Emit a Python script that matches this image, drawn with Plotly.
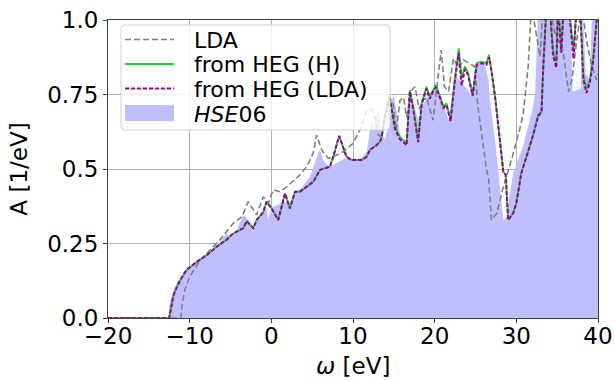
import plotly.graph_objects as go

# ---- data ----
x_heg = [-20, -12.5, -12.3, -12.0, -11.6, -11.2, -10.4, -9.1, -7.9, -6.7,
         -5.5, -4.66, -3.45, -3.0, -2.2, -1.8, -1.0, -0.58, 0.03, 0.85,
         1.67, 2.28, 2.9, 3.5, 4.3, 5.13, 5.95, 7.17, 7.58, 8.31,
         9.2, 9.83, 11.05, 11.66, 12.07, 12.89, 13.3, 13.5, 13.9, 14.52,
         15.13, 15.74, 16.56, 16.96, 17.37, 17.98, 18.4, 19.0, 19.4, 19.8,
         20.15, 20.65, 21.05, 21.45, 21.95, 22.45, 22.95, 23.3, 23.7, 24.1,
         24.65, 25.15, 25.75, 26.35, 26.65, 26.95, 27.4, 28.0, 28.4, 28.7,
         29.0, 29.6, 30.0, 30.6, 31.65, 32.06, 32.67, 33.08, 33.3, 33.7,
         34.1, 34.5, 34.9, 35.1, 35.5, 35.8, 36.4, 37.0, 37.4, 37.8,
         38.2, 38.6, 39.0, 39.4, 40.0]
y_heg_h = [0, 0, 0.03, 0.075, 0.103, 0.125, 0.161, 0.189, 0.211, 0.239,
           0.262, 0.284, 0.301, 0.325, 0.301, 0.329, 0.355, 0.39, 0.368, 0.329,
           0.418, 0.368, 0.424, 0.424, 0.44, 0.457, 0.497, 0.508, 0.541, 0.611,
           0.541, 0.53, 0.53, 0.541, 0.564, 0.58, 0.592, 0.608, 0.68, 0.743,
           0.642, 0.608, 0.586, 0.765, 0.709, 0.597, 0.72, 0.776, 0.743, 0.765,
           0.782, 0.743, 0.709, 0.72, 0.664, 0.799, 0.905, 0.805, 0.844, 0.821,
           0.748, 0.855, 0.86, 0.855, 0.883, 0.832, 0.743, 0.597, 0.491, 0.48,
           0.329, 0.351, 0.385, 0.485, 0.575, 0.614, 0.681, 0.692, 0.85, 1.05,
           1.05, 0.894, 0.86, 1.05, 0.905, 1.05, 1.05, 0.90, 1.05, 1.05,
           0.815, 0.771, 0.80, 0.871, 1.05]
y_heg_lda = [0, 0, 0.03, 0.075, 0.103, 0.125, 0.161, 0.189, 0.211, 0.239,
             0.262, 0.284, 0.301, 0.325, 0.301, 0.329, 0.355, 0.39, 0.368, 0.329,
             0.418, 0.368, 0.424, 0.424, 0.44, 0.457, 0.497, 0.508, 0.541, 0.611,
             0.541, 0.53, 0.53, 0.541, 0.564, 0.58, 0.592, 0.605, 0.675, 0.735,
             0.635, 0.60, 0.58, 0.76, 0.70, 0.59, 0.715, 0.77, 0.735, 0.76,
             0.775, 0.74, 0.705, 0.715, 0.66, 0.79, 0.89, 0.78, 0.835, 0.815,
             0.745, 0.85, 0.855, 0.85, 0.875, 0.83, 0.74, 0.597, 0.491, 0.48,
             0.329, 0.351, 0.385, 0.485, 0.575, 0.614, 0.678, 0.69, 0.84, 1.05,
             1.05, 0.88, 0.84, 1.05, 0.89, 1.05, 1.05, 0.87, 1.05, 1.05,
             0.80, 0.755, 0.79, 0.86, 1.05]

x_lda = [-20, -11.1, -10.9, -10.6, -10.0, -8.7, -7.5, -6.3, -4.66, -3.6,
         -2.83, -1.8, -0.99, -0.38, 0.23, 1.05, 1.87, 3.5, 4.32, 5.13,
         5.54, 6.16, 6.97, 7.58, 8.8, 10.0, 11.05, 11.66, 12.3, 12.7,
         13.1, 13.5, 13.9, 14.3, 14.9, 15.3, 15.75, 16.2, 16.56, 17.2,
         17.6, 18.1, 18.5, 19.0, 19.8, 20.2, 20.8, 21.2, 21.7, 22.3,
         22.9, 23.5, 24.3, 24.9, 25.3, 25.9, 26.35, 26.6, 26.95, 27.6,
         28.4, 29.4, 30.4, 30.85, 31.45, 31.85, 32.5, 32.9, 33.3, 34.0,
         34.8, 35.7, 36.4, 36.8, 37.4, 38.0, 38.6, 39.2, 39.8, 40.0]
y_lda = [0, 0, 0.05, 0.094, 0.139, 0.195, 0.228, 0.262, 0.318, 0.34,
         0.39, 0.346, 0.407, 0.385, 0.43, 0.424, 0.44, 0.48, 0.508, 0.553,
         0.614, 0.564, 0.536, 0.541, 0.558, 0.586, 0.642, 0.698, 0.70, 0.67,
         0.614, 0.608, 0.675, 0.743, 0.72, 0.631, 0.73, 0.74, 0.675, 0.765,
         0.776, 0.70, 0.73, 0.74, 0.664, 0.754, 0.899, 0.777, 0.76, 0.871,
         0.838, 0.866, 0.855, 0.844, 0.709, 0.586, 0.497, 0.47, 0.329, 0.351,
         0.44, 0.53, 0.631, 0.687, 0.844, 1.05, 0.944, 0.877, 1.05, 1.05,
         0.95, 0.899, 0.76, 0.80, 0.933, 1.05, 0.93, 0.85, 0.799, 0.82]

x_hse = [-20, -12.65, -12.5, -12.2, -11.8, -11.2, -10.4, -9.1, -7.9, -6.7,
         -5.5, -4.9, -4.3, -3.44, -3.0, -2.2, -1.6, -0.9, -0.58, -0.4,
         0.0, 0.8, 1.46, 2.2, 2.9, 3.5, 4.72, 5.74, 5.95, 6.36,
         6.56, 7.17, 9.0, 11.0, 11.7, 12.27, 12.6, 13.1, 13.5, 13.9,
         14.5, 14.9, 15.3, 15.74, 16.2, 16.6, 17.0, 17.5, 18.0, 18.6,
         19.4, 20.2, 20.8, 21.7, 22.1, 22.6, 23.3, 23.9, 24.6, 25.1,
         25.7, 26.1, 26.6, 26.76, 27.4, 28.0, 28.4, 28.8, 29.6, 30.8,
         31.86, 32.3, 32.7, 36.6, 36.9, 37.9, 38.1, 38.5, 39.0, 39.3, 40.0]
y_hse = [0, 0, 0.04, 0.075, 0.105, 0.13, 0.165, 0.19, 0.212, 0.24,
         0.284, 0.27, 0.29, 0.346, 0.335, 0.29, 0.335, 0.36, 0.37, 0.33,
         0.37, 0.38, 0.39, 0.385, 0.42, 0.43, 0.474, 0.553, 0.564, 0.53,
         0.52, 0.508, 0.535, 0.535, 0.56, 0.664, 0.64, 0.709, 0.62, 0.60,
         0.66, 0.754, 0.70, 0.62, 0.58, 0.60, 0.76, 0.71, 0.665, 0.72,
         0.754, 0.777, 0.743, 0.664, 0.74, 0.81, 0.79, 0.77, 0.743, 0.844,
         0.86, 0.855, 0.80, 0.732, 0.597, 0.44, 0.329, 0.34, 0.485, 0.575,
         0.687, 0.75, 1.05, 1.05, 0.76, 0.77, 1.05, 0.82, 0.80, 1.05, 1.05]

x_ticks = [-20, -10, 0, 10, 20, 30, 40]
x_ticklabels = ["\u221220", "\u221210", "0", "10", "20", "30", "40"]
y_ticks = [0, 0.25, 0.5, 0.75, 1.0]
y_ticklabels = ["0.0", "0.25", "0.5", "0.75", "1.0"]

legend_labels = ["LDA", "from HEG (H)", "from HEG (LDA)", "<i>HSE</i>06"]
x_title = "<i>\u03c9</i> [eV]"
y_title = "A [1/eV]"

FONT = "DejaVu Sans"
FS = 23
FS_LEG = 22
W, H = 615, 381
ML, MR, MT, MB = 108, 17, 20, 63
PW, PH = W - ML - MR, H - MT - MB

C_FILL = "rgb(191,191,255)"
C_LDA = "#808080"
C_H = "#22cc22"
C_L = "#990099"
LINE_LDA = dict(color=C_LDA, width=1.6, dash="6px,3px")
LINE_H = dict(color=C_H, width=1.8)
LINE_L = dict(color=C_L, width=2, dash="4px,2px")

fig = go.Figure()
fig.add_trace(go.Scatter(x=x_hse, y=y_hse, mode="lines", fill="tozeroy",
                         fillcolor=C_FILL, line=dict(width=0, color=C_FILL),
                         name="HSE06", showlegend=False))
fig.add_trace(go.Scatter(x=x_lda, y=y_lda, mode="lines", line=LINE_LDA,
                         name="LDA", showlegend=False))
fig.add_trace(go.Scatter(x=x_heg, y=y_heg_h, mode="lines", line=LINE_H,
                         name="from HEG (H)", showlegend=False))
fig.add_trace(go.Scatter(x=x_heg, y=y_heg_lda, mode="lines", line=LINE_L,
                         name="from HEG (LDA)", showlegend=False))


def px(xp):
    return (xp - ML) / PW


def py(yp):
    return (MT + PH - yp) / PH


# legend box (matplotlib-style, semi-transparent, rounded corners)
bx0, bx1, by0, by1, r = 121, 390, 25, 130, 4
path = (f"M {px(bx0 + r)},{py(by0)} L {px(bx1 - r)},{py(by0)} "
        f"Q {px(bx1)},{py(by0)} {px(bx1)},{py(by0 + r)} L {px(bx1)},{py(by1 - r)} "
        f"Q {px(bx1)},{py(by1)} {px(bx1 - r)},{py(by1)} L {px(bx0 + r)},{py(by1)} "
        f"Q {px(bx0)},{py(by1)} {px(bx0)},{py(by1 - r)} L {px(bx0)},{py(by0 + r)} "
        f"Q {px(bx0)},{py(by0)} {px(bx0 + r)},{py(by0)} Z")
shapes = [dict(type="path", xref="paper", yref="paper", path=path,
               fillcolor="rgba(255,255,255,0.8)", line=dict(color="#d0d0d0", width=1),
               layer="above")]
row_y = [39.5, 64, 88.5, 113]
sx0, sx1 = 125, 174
for ry, ln in zip(row_y[:3], [LINE_LDA, LINE_H, LINE_L]):
    shapes.append(dict(type="line", xref="paper", yref="paper", x0=px(sx0), x1=px(sx1),
                       y0=py(ry), y1=py(ry), line=ln, layer="above"))
shapes.append(dict(type="rect", xref="paper", yref="paper", x0=px(sx0), x1=px(sx1),
                   y0=py(row_y[3] - 8), y1=py(row_y[3] + 8),
                   fillcolor=C_FILL, line=dict(width=0), layer="above"))

annotations = []
for lab, ry in zip(legend_labels, row_y):
    annotations.append(dict(text=lab, xref="paper", yref="paper", x=px(192), y=py(ry + 1),
                            xanchor="left", yanchor="middle", showarrow=False,
                            font=dict(family=FONT, size=FS_LEG, color="black")))
# x-axis title
annotations.append(dict(text=x_title, xref="paper", yref="paper", x=0.5, y=py(366),
                        xanchor="center", yanchor="middle", showarrow=False,
                        font=dict(family=FONT, size=FS, color="black")))

axis_common = dict(showgrid=True, gridcolor="#b0b0b0", gridwidth=1, zeroline=False,
                   showline=True, linecolor="#404040", linewidth=1, mirror=True,
                   ticks="outside", ticklen=4, tickcolor="#404040",
                   tickfont=dict(family=FONT, size=FS, color="black"))

fig.update_layout(
    width=W, height=H,
    margin=dict(l=ML, r=MR, t=MT, b=MB, autoexpand=False),
    paper_bgcolor="white", plot_bgcolor="white",
    font=dict(family=FONT, size=FS, color="black"),
    showlegend=False,
    shapes=shapes,
    annotations=annotations,
    xaxis=dict(range=[-20, 40], tickvals=x_ticks, ticktext=x_ticklabels,
               ticklabelstandoff=-7, **axis_common),
    yaxis=dict(range=[0, 1.0], tickvals=y_ticks, ticktext=y_ticklabels,
               title=dict(text=y_title, font=dict(family=FONT, size=FS), standoff=13),
               **axis_common),
)

# remove the default page margin so the 615x381 figure fills the window exactly
fig.write_html("out.html",
               config={"displayModeBar": False},
               post_script="document.body.style.margin='0';document.body.style.padding='0';"
                           "document.body.style.overflow='hidden';")
